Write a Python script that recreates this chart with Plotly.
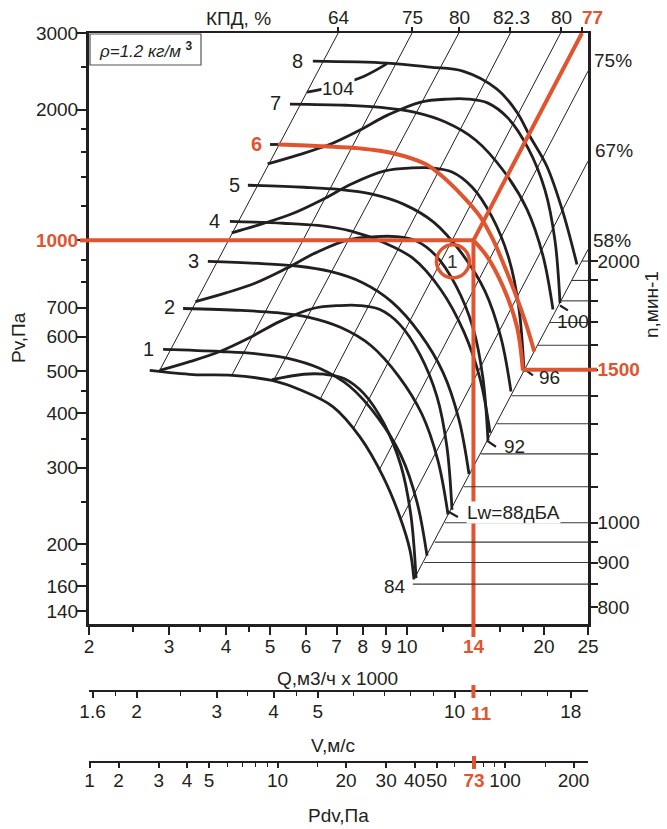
import math
import plotly.graph_objects as go

INK = "#231f20"
RED = "#e0552f"
FONT = "Liberation Sans, Arial, Helvetica, sans-serif"

# ---------------- axis data ----------------
q_range = [2, 25]            # Q, m3/h x 1000
pv_range = [131, 3000]       # Pv, Pa
v_per_q = 11 / 14            # V (m/s) per Q (x1000 m3/h), from 14 <-> 11
rho = 1.2
n_at_pv = (1000, 224)        # n = 1000 min-1 sits at Pv level 224 on the n scale

pv_ticks = [140, 160, 200, 300, 400, 500, 600, 700, 1000, 2000, 3000]
pv_minor = [180, 250, 350, 450, 800, 900, 1200, 1400, 1600, 1800, 2500]
q_ticks = [2, 3, 4, 5, 6, 7, 8, 9, 10, 14, 20, 25]
q_minor = [2.5, 3.5, 4.5, 12, 16, 18]
v_ticks = [1.6, 2, 3, 4, 5, 10, 11, 18]
v_minor = [1.8, 2.5, 3.5, 4.5, 6, 7, 8, 9, 12, 14, 16]
pdv_ticks = [1.49, 2, 3, 4, 5, 10, 20, 30, 40, 50, 73, 100, 200]
pdv_labels = ["1", "2", "3", "4", "5", "10", "20", "30", "40", "50", "73", "100", "200"]
pdv_minor = [6, 7, 8, 9, 15, 60, 80, 90, 150]
n_ticks = [800, 900, 1000, 1500, 2000]
n_minor = [850, 950, 1100, 1200, 1300, 1400, 1600, 1700, 1800, 1900]
kpd_q = [7.06, 10.26, 13.0, 16.88, 21.76, 24.25]
kpd_labels = ["64", "75", "80", "82.3", "80", "77"]
kpd_label_px = [339, 412, 459, 511, 561, 592]   # label centres along the top edge

# ---------------- fan curves (Q, Pv) ----------------
curve1_Q = [2.91, 3.88, 4.63, 5.48, 6.44, 7.49, 8.63, 9.70, 10.52, 11.07]
curve1_P = [561, 555, 549, 535, 507, 461, 391, 320, 250, 188]
curve2_Q = [3.22, 4.32, 5.15, 6.09, 7.16, 8.33, 9.60, 10.79, 11.70, 12.31]
curve2_P = [697, 690, 682, 665, 630, 573, 486, 398, 311, 234]
curve3_Q = [3.65, 4.80, 5.73, 6.78, 7.97, 9.26, 10.67, 12.00, 13.01, 13.69]
curve3_P = [895, 884, 873, 848, 800, 722, 611, 497, 387, 290]
curve4_Q = [4.08, 5.34, 6.37, 7.54, 8.86, 10.30, 11.87, 13.34, 14.47, 15.23]
curve4_P = [1106, 1095, 1082, 1050, 990, 910, 770, 616, 481, 361]
curve5_Q = [4.47, 5.94, 7.08, 8.38, 9.85, 11.46, 13.20, 14.84, 16.09, 16.93]
curve5_P = [1339, 1325, 1310, 1277, 1210, 1100, 933, 764, 597, 449]
curve6_Q = [5.21, 6.60, 7.88, 9.32, 10.96, 11.81, 13.27, 14.47, 15.45, 16.59, 17.72, 18.35, 19.05]
curve6_P = [1662, 1646, 1628, 1587, 1500, 1419, 1263, 1136, 1005, 844, 705, 633, 555]
curve7_Q = [5.53, 7.34, 8.76, 10.37, 12.18, 14.17, 16.33, 18.35, 19.90, 20.94]
curve7_P = [2058, 2046, 2024, 1972, 1869, 1700, 1442, 1180, 922, 693]
curve8_Q = [6.21, 9.04, 11.23, 13.27, 15.77, 17.45, 18.63, 20.30, 22.03, 23.64]
curve8_P = [2585, 2558, 2504, 2451, 2228, 1972, 1736, 1481, 1160, 880]

lead6_Q = [5.0, 5.21]
lead6_P = [1662, 1662]

low_Q = [2.72, 3.39, 4.13, 5.05, 5.82, 6.88, 7.88, 8.86, 9.65, 10.15, 10.36]
low_P = [502, 491, 489, 476, 453, 414, 353, 286, 231, 194, 166]

r84_Q = [5.05, 5.93, 6.57, 7.27, 8.04, 8.90, 9.70, 10.20, 10.47]
r84_P = [478, 492, 492, 481, 444, 379, 303, 233, 167]
r88_Q = [2.86, 3.33, 3.88, 4.52, 5.26, 6.21, 7.12, 7.88, 8.72, 9.65, 10.68, 11.64, 12.24, 12.56]
r88_P = [502, 526, 555, 598, 651, 697, 708, 708, 693, 640, 546, 437, 335, 240]
r92_Q = [3.43, 4.00, 4.66, 5.42, 6.31, 7.45, 8.54, 9.46, 10.46, 11.58, 12.82, 13.97, 14.69, 15.07]
r92_P = [723, 757, 799, 861, 937, 1004, 1020, 1020, 998, 922, 786, 629, 482, 346]
r96_Q = [4.12, 4.80, 5.59, 6.51, 7.57, 8.94, 10.25, 11.35, 12.56, 13.90, 15.38, 16.76, 17.63, 18.09]
r96_P = [1041, 1091, 1151, 1240, 1350, 1445, 1468, 1468, 1437, 1327, 1132, 906, 695, 498]
r100_Q = [4.94, 5.75, 6.71, 7.81, 9.09, 10.73, 12.30, 13.62, 15.07, 16.68, 18.46, 20.11, 21.15, 21.70]
r100_P = [1499, 1571, 1657, 1786, 1944, 2081, 2114, 2114, 2069, 1911, 1630, 1305, 1000, 717]
r104_Q = [6.03, 6.90, 8.05, 9.04]
r104_P = [2193, 2262, 2386, 2550]

# operating-point curve (red) and point
work_Q = [14.0, 14.99, 16.26, 17.45, 17.98]
work_P = [1000, 919, 783, 633, 502]
op_Q, op_P, op_n, op_V, op_Pdv = 14.0, 1000, 1500, 11, 73

# efficiency (Q^2) lines: lower end on the lowest curve, upper end on the frame
eff_Q0 = [2.86, 4.12, 5.09, 6.45, 7.62, 8.70, 9.70, 10.36]
eff_P0 = [502, 489, 476, 432, 368, 297, 228, 166]
eff_Q1 = [7.06, 10.26, 13.0, 16.88, 21.76, 25, 25, 25]
eff_P1 = [3000, 3000, 3000, 3000, 3000, 2451, 1521, 953]
eff77_Q = [14.0, 24.25]
eff77_P = [1000, 3000]

# n scale lines (from 58% line to the n axis)
n_levels = [850, 900, 950, 1000, 1100, 1200, 1300, 1400, 1500, 1600, 1700, 1800, 1900, 2000]
n_Q0 = [10.30, 10.91, 11.51, 12.12, 13.33, 14.54, 15.76, 16.97, 18.18, 19.39, 20.60, 21.82, 23.03, 24.24]

# noise-level end hooks
hook_Q = [[12.29, 12.94], [14.99, 15.69], [18.17, 18.92], [21.70, 22.58]]
hook_P = [[238, 231], [346, 335], [504, 489], [708, 690]]

# curve number labels (text, Q, P)
num_labels = [("1", 2.70, 561), ("2", 3.01, 701), ("3", 3.39, 895), ("4", 3.77, 1106),
              ("5", 4.17, 1339), ("6", 4.66, 1664), ("7", 5.15, 2069), ("8", 5.76, 2585)]
lw_labels = [("84", 9.41, 160), ("Lw=88дБА", 17.18, 236), ("92", 17.2, 335),
             ("96", 20.61, 483), ("100", 23.16, 651), ("104", 7.05, 2239)]
circle_Q, circle_P = 12.62, 895

# ---------------- helpers ----------------
L = math.log10


def fx(px):
    return (px - 89) / 499


def fy(py):
    return (762 - py) / 729


fig = go.Figure()


def line(xs, ys, color=INK, width=2.8, yaxis="y", xaxis="x", shape="spline"):
    fig.add_trace(go.Scatter(x=xs, y=ys, mode="lines", xaxis=xaxis, yaxis=yaxis,
                             line=dict(color=color, width=width, shape=shape, smoothing=1.0),
                             hoverinfo="skip", showlegend=False))


# thin efficiency lines
for q0, p0, q1, p1 in zip(eff_Q0, eff_P0, eff_Q1, eff_P1):
    line([q0, q1], [p0, p1], width=1.0, shape="linear")

# n lines
for n, q0 in zip(n_levels, n_Q0):
    line([q0, q_range[1]], [n, n], color="#3a3a3a", width=1.1, yaxis="y2", shape="linear")

# thick black curves
for qs, ps in [(low_Q, low_P), (r84_Q, r84_P), (r88_Q, r88_P), (r92_Q, r92_P),
               (r96_Q, r96_P), (r100_Q, r100_P), (r104_Q, r104_P),
               (curve1_Q, curve1_P), (curve2_Q, curve2_P), (curve3_Q, curve3_P),
               (curve4_Q, curve4_P), (curve5_Q, curve5_P), (curve7_Q, curve7_P),
               (curve8_Q, curve8_P)]:
    line(qs, ps)
line(lead6_Q, lead6_P, shape="linear")
for hq, hp in zip(hook_Q, hook_P):
    line(hq, hp, width=2.2, shape="linear")

# red: curve 6, operating curve, guide lines
line(curve6_Q, curve6_P, color=RED, width=4)
line(work_Q, work_P, color=RED, width=4)
line([q_range[0], op_Q], [op_P, op_P], color=RED, width=4, shape="linear")
line([op_Q, op_Q], [op_P, pv_range[0]], color=RED, width=4, shape="linear")
line(eff77_Q, eff77_P, color=RED, width=4, shape="linear")
line([work_Q[-1], q_range[1]], [op_n, op_n], color=RED, width=4, yaxis="y2", shape="linear")

# circle marker "1"
fig.add_trace(go.Scatter(x=[circle_Q], y=[circle_P], mode="markers",
                         marker=dict(symbol="circle-open", size=33, color=RED,
                                     line=dict(width=3.5, color=RED)),
                         hoverinfo="skip", showlegend=False))

# dummy traces so every axis is drawn
for xa, ya in [("x2", "y"), ("x3", "y"), ("x4", "y")]:
    fig.add_trace(go.Scatter(x=[q_range[0]], y=[pv_range[0]], xaxis=xa, yaxis=ya, mode="markers",
                             marker=dict(opacity=0), showlegend=False, hoverinfo="skip"))

tick_font = dict(family=FONT, size=19, color=INK)


def red_b(t):
    return "<span style='color:%s'><b>%s</b></span>" % (RED, t)


def fmt(v):
    return ("%g" % v)


axis_common = dict(showgrid=False, zeroline=False, showline=True, linecolor=INK,
                   ticks="outside", tickcolor=INK, tickfont=tick_font, type="log",
                   tickangle=0, automargin=False)

v_lo, v_hi = q_range[0] * v_per_q, q_range[1] * v_per_q
pdv_lo, pdv_hi = rho / 2 * v_lo ** 2, rho / 2 * v_hi ** 2
n_lo = L(n_at_pv[0]) + (L(pv_range[0]) - L(n_at_pv[1])) / 2
n_hi = L(n_at_pv[0]) + (L(pv_range[1]) - L(n_at_pv[1])) / 2

v_text = ["" if v == op_V else fmt(v) for v in v_ticks]

fig.update_layout(
    width=667, height=829,
    margin=dict(l=89, r=79, t=33, b=67, autoexpand=False),
    paper_bgcolor="white", plot_bgcolor="white",
    showlegend=False,
    font=dict(family=FONT, size=19, color=INK),
    xaxis=dict(axis_common, range=[L(q_range[0]), L(q_range[1])], domain=[0, 1], anchor="y",
               linewidth=3, ticklen=8, tickwidth=2, ticklabelstandoff=-5,
               tickvals=q_ticks, ticktext=[red_b("14") if v == 14 else fmt(v) for v in q_ticks],
               minor=dict(tickvals=q_minor, ticklen=5, tickwidth=1.5, tickcolor=INK, ticks="outside")),
    yaxis=dict(axis_common, range=[L(pv_range[0]), L(pv_range[1])], domain=[fy(624), 1], anchor="x",
               linewidth=3, ticklen=9, tickwidth=2, ticklabelstandoff=-5,
               tickvals=pv_ticks, ticktext=[red_b("1000") if v == 1000 else fmt(v) for v in pv_ticks],
               minor=dict(tickvals=pv_minor, ticklen=5, tickwidth=1.5, tickcolor=INK, ticks="outside")),
    xaxis2=dict(axis_common, range=[L(q_range[0]), L(q_range[1])], overlaying="x", side="top",
                anchor="y", linewidth=2, ticklen=4, tickwidth=1.5,
                tickvals=kpd_q, showticklabels=False),
    yaxis2=dict(axis_common, range=[n_lo, n_hi],
                overlaying="y", side="right", anchor="x", linewidth=2.5, ticklen=7, tickwidth=1.5,
                ticklabelstandoff=-4,
                tickvals=n_ticks, ticktext=[red_b("1500") if v == 1500 else fmt(v) for v in n_ticks],
                minor=dict(tickvals=n_minor, ticklen=7, tickwidth=1.5, tickcolor=INK, ticks="outside")),
    xaxis3=dict(axis_common, range=[L(v_lo), L(v_hi)], overlaying="x", anchor="free",
                position=fy(691), side="bottom", linewidth=2, ticklen=6, tickwidth=1.5,
                ticklabelstandoff=-3,
                tickvals=v_ticks, ticktext=v_text,
                minor=dict(tickvals=v_minor, ticklen=4, tickwidth=1.2, tickcolor=INK, ticks="outside")),
    xaxis4=dict(axis_common, range=[L(pdv_lo), L(pdv_hi)], overlaying="x", anchor="free",
                position=0, side="bottom", linewidth=2, ticklen=5, tickwidth=1.5,
                ticklabelstandoff=-4,
                tickvals=pdv_ticks, ticktext=[red_b(t) if t == "73" else t for t in pdv_labels],
                minor=dict(tickvals=pdv_minor, ticklen=4, tickwidth=1.2, tickcolor=INK, ticks="outside")),
)

# shapes on log axes take raw data values here
shapes = [
    dict(type="rect", xref="paper", yref="paper", x0=fx(90), x1=fx(201), y0=fy(65), y1=fy(34),
         line=dict(color="#555555", width=1.2)),
    dict(type="line", xref="paper", yref="y", x0=fx(80), x1=0, y0=op_P, y1=op_P,
         line=dict(color=RED, width=4)),
    dict(type="line", xref="paper", yref="y2", x0=1, x1=fx(597), y0=op_n, y1=op_n,
         line=dict(color=RED, width=4)),
    dict(type="line", xref="x", yref="paper", x0=op_Q, x1=op_Q, y0=fy(637), y1=fy(624),
         line=dict(color=RED, width=4)),
    dict(type="line", xref="x3", yref="paper", x0=op_V, x1=op_V, y0=fy(698), y1=fy(685),
         line=dict(color=RED, width=4)),
    dict(type="line", xref="x4", yref="paper", x0=op_Pdv, x1=op_Pdv, y0=fy(769), y1=fy(756),
         line=dict(color=RED, width=4)),
]
fig.update_layout(shapes=shapes)

ann = []
C = dict(showarrow=False, xanchor="center", yanchor="middle")
for t, q, p in num_labels:
    if t == "6":
        ann.append(dict(C, x=L(q), y=L(p), xref="x", yref="y", text="<b>6</b>",
                        font=dict(size=20, color=RED, family=FONT)))
    else:
        ann.append(dict(C, x=L(q), y=L(p), xref="x", yref="y", text=t,
                        font=dict(size=20, color=INK, family=FONT)))
for t, q, p in lw_labels:
    d = dict(C, x=L(q), y=L(p), xref="x", yref="y", text=t,
             font=dict(size=19, color=INK, family=FONT))
    if t in ("104", "Lw=88дБА"):
        d["bgcolor"] = "white"
        d["borderpad"] = 0
    ann.append(d)
ann.append(dict(C, x=L(circle_Q), y=L(circle_P), xref="x", yref="y", text="1",
                font=dict(size=19, color="#333333", family=FONT)))

# efficiency values along the top edge
for i, (t, px) in enumerate(zip(kpd_labels, kpd_label_px)):
    ann.append(dict(C, x=fx(px), y=fy(18), xref="paper", yref="paper",
                    text=red_b(t) if i == 5 else t, font=dict(size=19, color=INK, family=FONT)))
# V at the operating point
ann.append(dict(C, x=fx(481), y=fy(713), xref="paper", yref="paper", text=red_b(str(op_V)),
                font=dict(size=19, color=INK, family=FONT)))

paper_texts = [
    ("КПД, %", 238, 19, 0), ("75%", 613, 60, 0), ("67%", 614, 150, 0), ("58%", 612, 240, 0),
    ("Pv,Па", 18, 338, -90), ("n,мин-1", 651, 305, -90),
    ("Q,м3/ч x 1000", 337, 678, 0), ("V,м/с", 333, 745, 0), ("Pdv,Па", 338, 815, 0),
]
for t, px, py, ang in paper_texts:
    ann.append(dict(C, x=fx(px), y=fy(py), xref="paper", yref="paper", text=t,
                    textangle=ang, font=dict(size=19, color=INK, family=FONT)))
ann.append(dict(C, x=fx(146), y=fy(50), xref="paper", yref="paper",
                text="<i>ρ=1.2 кг/м</i> <b><sup>3</sup></b>",
                font=dict(size=17, color=INK, family=FONT)))
fig.update_layout(annotations=ann)

fig.write_html("out.html", config={"displayModeBar": False},
               post_script="document.body.style.margin='0px';document.body.style.overflow='hidden';")
